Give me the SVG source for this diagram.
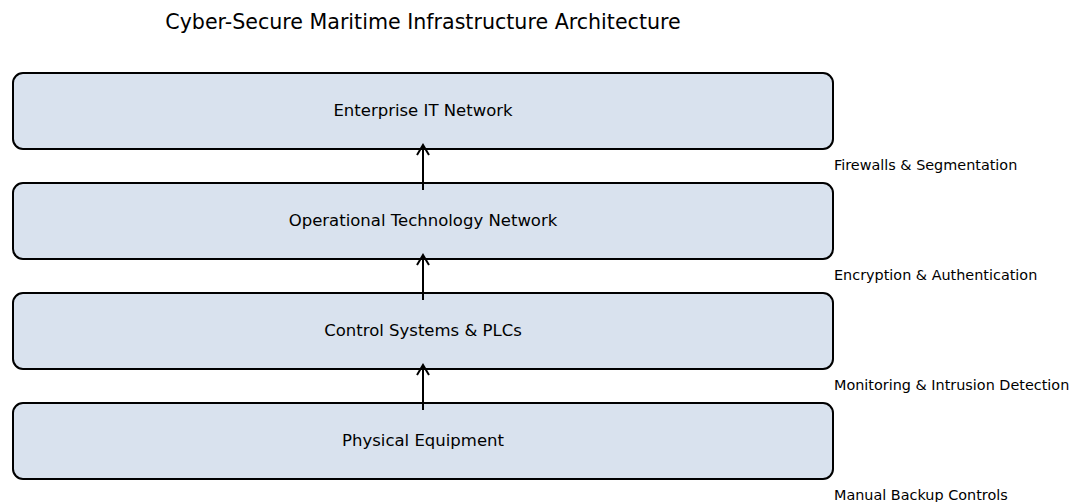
<svg xmlns="http://www.w3.org/2000/svg" width="1073" height="502" viewBox="0 0 1073 502">
<style>
.box{fill:#d9e2ee;stroke:#000;stroke-width:2}
.t{font-family:"DejaVu Sans",sans-serif;font-size:16.5px;fill:#000;text-anchor:middle}
.lbl{font-family:"DejaVu Sans",sans-serif;font-size:14.4px;fill:#000}
.title{font-family:"DejaVu Sans",sans-serif;font-size:20.6px;fill:#000;text-anchor:middle}
.arr{stroke:#000;stroke-width:2;fill:none}
</style>
<rect width="1073" height="502" fill="#fff"/>
<text class="title" x="423" y="29">Cyber-Secure Maritime Infrastructure Architecture</text>
<g id="node-enterprise"><rect class="box" x="13" y="73" width="820" height="76" rx="10"/><text class="t" x="423" y="116">Enterprise IT Network</text></g>
<g id="node-ot"><rect class="box" x="13" y="183" width="820" height="76" rx="10"/><text class="t" x="423" y="226">Operational Technology Network</text></g>
<g id="node-control"><rect class="box" x="13" y="293" width="820" height="76" rx="10"/><text class="t" x="423" y="336">Control Systems &amp; PLCs</text></g>
<g id="node-physical"><rect class="box" x="13" y="403" width="820" height="76" rx="10"/><text class="t" x="423" y="446">Physical Equipment</text></g>
<g id="connectors">
<path class="arr" d="M423 190V145M417 155L423 145L429 155"/>
<path class="arr" d="M423 300V255M417 265L423 255L429 265"/>
<path class="arr" d="M423 410V365M417 375L423 365L429 375"/>
</g>
<g id="labels">
<text class="lbl" x="834" y="170">Firewalls &amp; Segmentation</text>
<text class="lbl" x="834" y="280">Encryption &amp; Authentication</text>
<text class="lbl" x="834" y="390">Monitoring &amp; Intrusion Detection</text>
<text class="lbl" x="834" y="500">Manual Backup Controls</text>
</g>
</svg>
